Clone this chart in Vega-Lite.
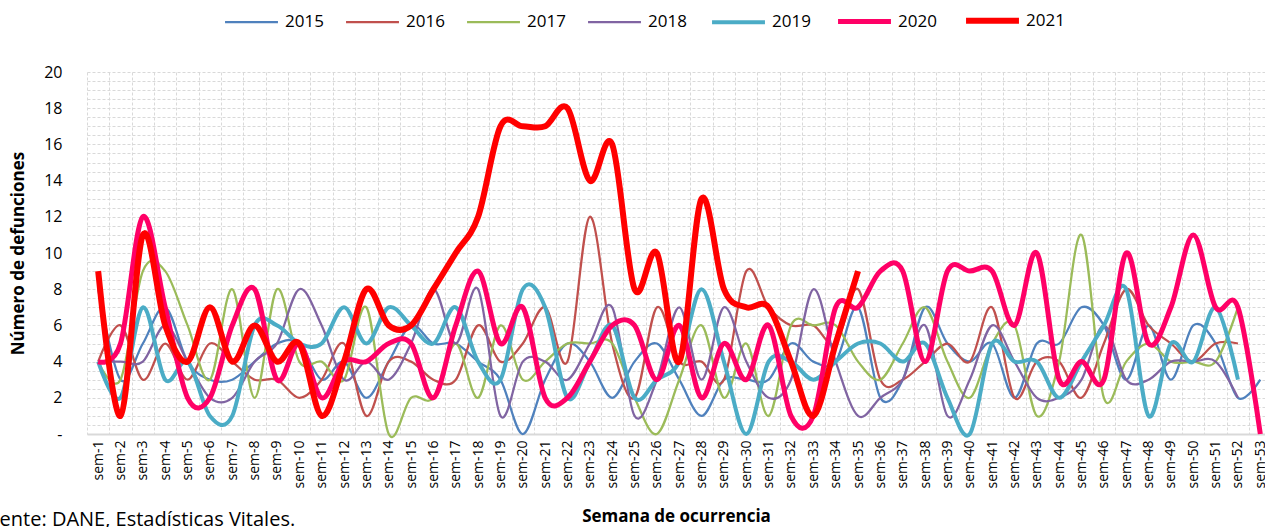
{
  "$schema": "https://vega.github.io/schema/vega-lite/v6.json",
  "width": 1178,
  "height": 362,
  "autosize": {"type": "none"},
  "padding": {"left": 87, "top": 72, "right": 0, "bottom": 93},
  "background": "white",
  "config": {"font": "Open Sans", "view": {"stroke": null}},
  "title": {"text": "Fuente: DANE, Estadísticas Vitales.", "orient": "bottom", "anchor": "start", "frame": "group", "dx": -110, "offset": -14, "fontSize": 20, "fontWeight": "normal", "color": "#000"},
  "data": {"values": [
    {"sem":1,"2015":8,"2016":4,"2017":4,"2018":4,"2019":4,"2020":4,"2021":9},
    {"sem":2,"2015":3,"2016":6,"2017":3,"2018":4,"2019":2,"2020":5,"2021":1},
    {"sem":3,"2015":5,"2016":3,"2017":9,"2018":4,"2019":7,"2020":12,"2021":11},
    {"sem":4,"2015":7,"2016":5,"2017":9,"2018":6,"2019":3,"2020":7,"2021":6},
    {"sem":5,"2015":4,"2016":3,"2017":6,"2018":4,"2019":4,"2020":2,"2021":4},
    {"sem":6,"2015":3,"2016":5,"2017":3,"2018":2,"2019":1,"2020":2,"2021":7},
    {"sem":7,"2015":3,"2016":4,"2017":8,"2018":2,"2019":1,"2020":6,"2021":4},
    {"sem":8,"2015":4,"2016":3,"2017":2,"2018":4,"2019":6,"2020":8,"2021":6},
    {"sem":9,"2015":5,"2016":3,"2017":8,"2018":5,"2019":6,"2020":3,"2021":4},
    {"sem":10,"2015":5,"2016":2,"2017":4,"2018":8,"2019":5,"2020":5,"2021":5},
    {"sem":11,"2015":3,"2016":3,"2017":4,"2018":6,"2019":5,"2020":2,"2021":1},
    {"sem":12,"2015":4,"2016":5,"2017":3,"2018":3,"2019":7,"2020":4,"2021":4},
    {"sem":13,"2015":2,"2016":1,"2017":7,"2018":4,"2019":5,"2020":4,"2021":8},
    {"sem":14,"2015":4,"2016":4,"2017":0,"2018":3,"2019":7,"2020":5,"2021":6},
    {"sem":15,"2015":6,"2016":4,"2017":2,"2018":5,"2019":6,"2020":5,"2021":6},
    {"sem":16,"2015":5,"2016":3,"2017":2,"2018":8,"2019":5,"2020":2,"2021":8},
    {"sem":17,"2015":5,"2016":3,"2017":5,"2018":5,"2019":7,"2020":6,"2021":10},
    {"sem":18,"2015":4,"2016":6,"2017":2,"2018":8,"2019":4,"2020":9,"2021":12},
    {"sem":19,"2015":3,"2016":4,"2017":6,"2018":1,"2019":3,"2020":5,"2021":17},
    {"sem":20,"2015":0,"2016":5,"2017":3,"2018":4,"2019":8,"2020":7,"2021":17},
    {"sem":21,"2015":3,"2016":7,"2017":4,"2018":4,"2019":7,"2020":2,"2021":17},
    {"sem":22,"2015":5,"2016":4,"2017":5,"2018":3,"2019":2,"2020":2,"2021":18},
    {"sem":23,"2015":4,"2016":12,"2017":5,"2018":5,"2019":4,"2020":4,"2021":14},
    {"sem":24,"2015":2,"2016":5,"2017":5,"2018":7,"2019":6,"2020":6,"2021":16},
    {"sem":25,"2015":4,"2016":2,"2017":2,"2018":1,"2019":2,"2020":6,"2021":8},
    {"sem":26,"2015":5,"2016":7,"2017":0,"2018":3,"2019":3,"2020":3,"2021":10},
    {"sem":27,"2015":3,"2016":4,"2017":3,"2018":7,"2019":4,"2020":6,"2021":4},
    {"sem":28,"2015":1,"2016":4,"2017":6,"2018":3,"2019":8,"2020":2,"2021":13},
    {"sem":29,"2015":3,"2016":3,"2017":2,"2018":7,"2019":4,"2020":5,"2021":8},
    {"sem":30,"2015":3,"2016":9,"2017":5,"2018":4,"2019":0,"2020":3,"2021":7},
    {"sem":31,"2015":3,"2016":7,"2017":1,"2018":2,"2019":4,"2020":6,"2021":7},
    {"sem":32,"2015":5,"2016":6,"2017":6,"2018":3,"2019":4,"2020":1,"2021":4},
    {"sem":33,"2015":4,"2016":6,"2017":6,"2018":8,"2019":3,"2020":1,"2021":1},
    {"sem":34,"2015":4,"2016":5,"2017":6,"2018":4,"2019":4,"2020":7,"2021":5},
    {"sem":35,"2015":7,"2016":8,"2017":4,"2018":1,"2019":5,"2020":7,"2021":9},
    {"sem":36,"2015":2,"2016":3,"2017":3,"2018":2,"2019":5,"2020":9},
    {"sem":37,"2015":3,"2016":3,"2017":5,"2018":3,"2019":4,"2020":9},
    {"sem":38,"2015":7,"2016":4,"2017":7,"2018":6,"2019":5,"2020":4},
    {"sem":39,"2015":5,"2016":5,"2017":4,"2018":1,"2019":2,"2020":9},
    {"sem":40,"2015":4,"2016":4,"2017":2,"2018":3,"2019":0,"2020":9},
    {"sem":41,"2015":5,"2016":7,"2017":5,"2018":6,"2019":5,"2020":9},
    {"sem":42,"2015":2,"2016":2,"2017":6,"2018":4,"2019":4,"2020":6},
    {"sem":43,"2015":5,"2016":4,"2017":1,"2018":2,"2019":4,"2020":10},
    {"sem":44,"2015":5,"2016":4,"2017":4,"2018":2,"2019":2,"2020":3},
    {"sem":45,"2015":7,"2016":2,"2017":11,"2018":3,"2019":4,"2020":4},
    {"sem":46,"2015":6,"2016":5,"2017":2,"2018":6,"2019":6,"2020":3},
    {"sem":47,"2015":3,"2016":8,"2017":4,"2018":3,"2019":8,"2020":10},
    {"sem":48,"2015":6,"2016":6,"2017":5,"2018":3,"2019":1,"2020":5},
    {"sem":49,"2015":3,"2016":5,"2017":4,"2018":4,"2019":5,"2020":7},
    {"sem":50,"2015":6,"2016":4,"2017":4,"2018":4,"2019":4,"2020":11},
    {"sem":51,"2015":5,"2016":5,"2017":4,"2018":4,"2019":7,"2020":7},
    {"sem":52,"2015":2,"2016":5,"2017":7,"2018":2,"2019":3,"2020":7},
    {"sem":53,"2015":3,"2020":0}
  ]},
  "transform": [
    {"fold": ["2015","2016","2017","2018","2019","2020","2021"], "as": ["anio","def"]},
    {"filter": "isValid(datum.def)"}
  ],
  "mark": {"type": "line", "interpolate": "cardinal", "tension": 0, "clip": false},
  "encoding": {
    "x": {"field": "sem", "type": "quantitative",
      "scale": {"domain": [0.5, 53.21], "nice": false, "zero": false},
      "axis": {"title": "Semana de ocurrencia", "titleFontSize": 17, "titleFontWeight": "bold", "titleColor": "#000", "titlePadding": 20,
        "values": [0.5,1,1.5,2,2.5,3,3.5,4,4.5,5,5.5,6,6.5,7,7.5,8,8.5,9,9.5,10,10.5,11,11.5,12,12.5,13,13.5,14,14.5,15,15.5,16,16.5,17,17.5,18,18.5,19,19.5,20,20.5,21,21.5,22,22.5,23,23.5,24,24.5,25,25.5,26,26.5,27,27.5,28,28.5,29,29.5,30,30.5,31,31.5,32,32.5,33,33.5,34,34.5,35,35.5,36,36.5,37,37.5,38,38.5,39,39.5,40,40.5,41,41.5,42,42.5,43,43.5,44,44.5,45,45.5,46,46.5,47,47.5,48,48.5,49,49.5,50,50.5,51,51.5,52,52.5,53],
        "labelExpr": "datum.value % 1 == 0 ? 'sem-' + datum.value : ''",
        "labelAngle": -90, "labelFontSize": 14, "labelColor": "#000", "labelPadding": 6, "labelOverlap": false, "labelBound": false, "labelFlush": false,
        "ticks": false, "domain": true, "domainColor": "#d9d9d9", "domainWidth": 2,
        "grid": true, "gridColor": "#d9d9d9", "gridDash": [3, 2], "gridWidth": 1,
        "gridOpacity": {"condition": {"test": "datum.value % 1 == 0", "value": 0}, "value": 1}}},
    "y": {"field": "def", "type": "quantitative",
      "scale": {"domain": [0, 20], "nice": false},
      "axis": {"title": "Número de defunciones", "titleFontSize": 17, "titleFontWeight": "bold", "titleColor": "#000", "titlePadding": 16,
        "values": [0,0.5,1,1.5,2,2.5,3,3.5,4,4.5,5,5.5,6,6.5,7,7.5,8,8.5,9,9.5,10,10.5,11,11.5,12,12.5,13,13.5,14,14.5,15,15.5,16,16.5,17,17.5,18,18.5,19,19.5,20],
        "labelExpr": "datum.value == 0 ? '-' : (datum.value % 2 == 0 ? format(datum.value, 'd') : '')",
        "labelFontSize": 16, "labelColor": "#000", "labelPadding": 25, "labelOverlap": false,
        "ticks": false, "domain": false,
        "grid": true, "gridColor": "#d9d9d9", "gridDash": [3, 2], "gridWidth": 1}},
    "color": {"field": "anio", "type": "ordinal",
      "scale": {"type": "ordinal", "domain": ["2015","2016","2017","2018","2019","2020","2021"], "range": ["#4F81BD","#C0504D","#9BBB59","#8064A2","#4BACC6","#FF0066","#FF0000"]},
      "legend": {"orient": "none", "legendX": 135, "legendY": -81, "direction": "horizontal", "columns": 7, "title": null, "symbolType": "stroke", "symbolSize": 2800, "labelFontSize": 17, "labelColor": "#000", "columnPadding": 17, "labelOffset": 4}},
    "strokeWidth": {"field": "anio", "type": "ordinal",
      "scale": {"type": "ordinal", "domain": ["2015","2016","2017","2018","2019","2020","2021"], "range": [2.25,2.25,2.25,2.25,4,5,6]},
      "legend": {"orient": "none", "legendX": 135, "legendY": -81, "direction": "horizontal", "columns": 7, "title": null, "symbolType": "stroke", "symbolSize": 2800, "labelFontSize": 17, "labelColor": "#000", "columnPadding": 17, "labelOffset": 4}}
  }
}
